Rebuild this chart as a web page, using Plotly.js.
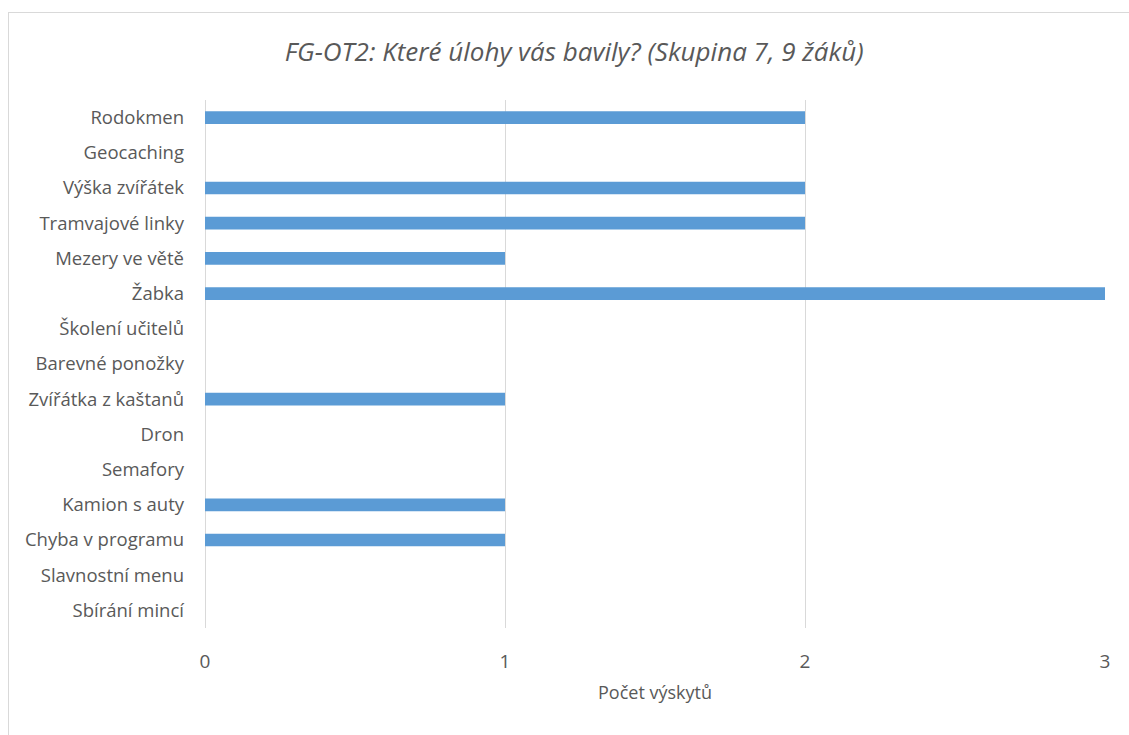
<!DOCTYPE html>
<html>
<head>
<meta charset="utf-8">
<script src="https://cdn.plot.ly/plotly-3.0.1.min.js"></script>
<style>
html,body{margin:0;padding:0;background:#fff;}
#frame{position:absolute;left:8px;top:12px;width:1140px;height:760px;border:1px solid #d9d9d9;pointer-events:none;}
#chart{position:absolute;left:0;top:0;width:1129px;height:735px;}
</style>
</head>
<body>
<div id="frame"></div>
<div id="chart"></div>
<script>
var categories = ["Rodokmen","Geocaching","Výška zvířátek","Tramvajové linky","Mezery ve větě","Žabka","Školení učitelů","Barevné ponožky","Zvířátka z kaštanů","Dron","Semafory","Kamion s auty","Chyba v programu","Slavnostní menu","Sbírání mincí"];
var counts = [2,0,2,2,1,3,0,0,1,0,0,1,1,0,0];
var xTicks = [0,1,2,3];

var fontFam = "'Open Sans', 'Noto Sans', sans-serif";
var trace = {
  type: 'bar',
  orientation: 'h',
  y: categories,
  x: counts,
  marker: {color: '#5b9bd5'},
  width: 0.36,
  hoverinfo: 'x+y'
};
var layout = {
  width: 1129, height: 735,
  margin: {l: 205, r: 24, t: 100, b: 107},
  paper_bgcolor: 'rgba(0,0,0,0)',
  plot_bgcolor: 'rgba(0,0,0,0)',
  font: {family: fontFam, color: '#595959'},
  title: {text: '<i>FG-OT2: Které úlohy vás bavily? (Skupina 7, 9 žáků)</i>', x: 0.5085, xref: 'container', xanchor: 'center', y: 0.929, yanchor: 'middle', font: {size: 26, color: '#595959', family: fontFam}},
  showlegend: false,
  xaxis: {
    range: [0, 3],
    tickvals: xTicks,
    ticktext: xTicks.map(String),
    showgrid: true, gridcolor: '#d9d9d9', gridwidth: 1,
    zeroline: true, zerolinecolor: '#d9d9d9', zerolinewidth: 1,
    showline: false, ticks: '', ticklabelstandoff: 20,
    tickfont: {size: 19, color: '#595959'},
    title: {text: 'Počet výskytů', font: {size: 18, color: '#595959'}, standoff: 13},
    fixedrange: true
  },
  yaxis: {
    type: 'category',
    categoryorder: 'array', categoryarray: categories,
    autorange: 'reversed',
    showgrid: false, zeroline: false, showline: false, ticks: '',
    ticklabelstandoff: 20,
    tickfont: {size: 18.5, color: '#595959'},
    fixedrange: true
  }
};
Plotly.newPlot('chart', [trace], layout, {displayModeBar: false, staticPlot: true});
</script>
</body>
</html>
